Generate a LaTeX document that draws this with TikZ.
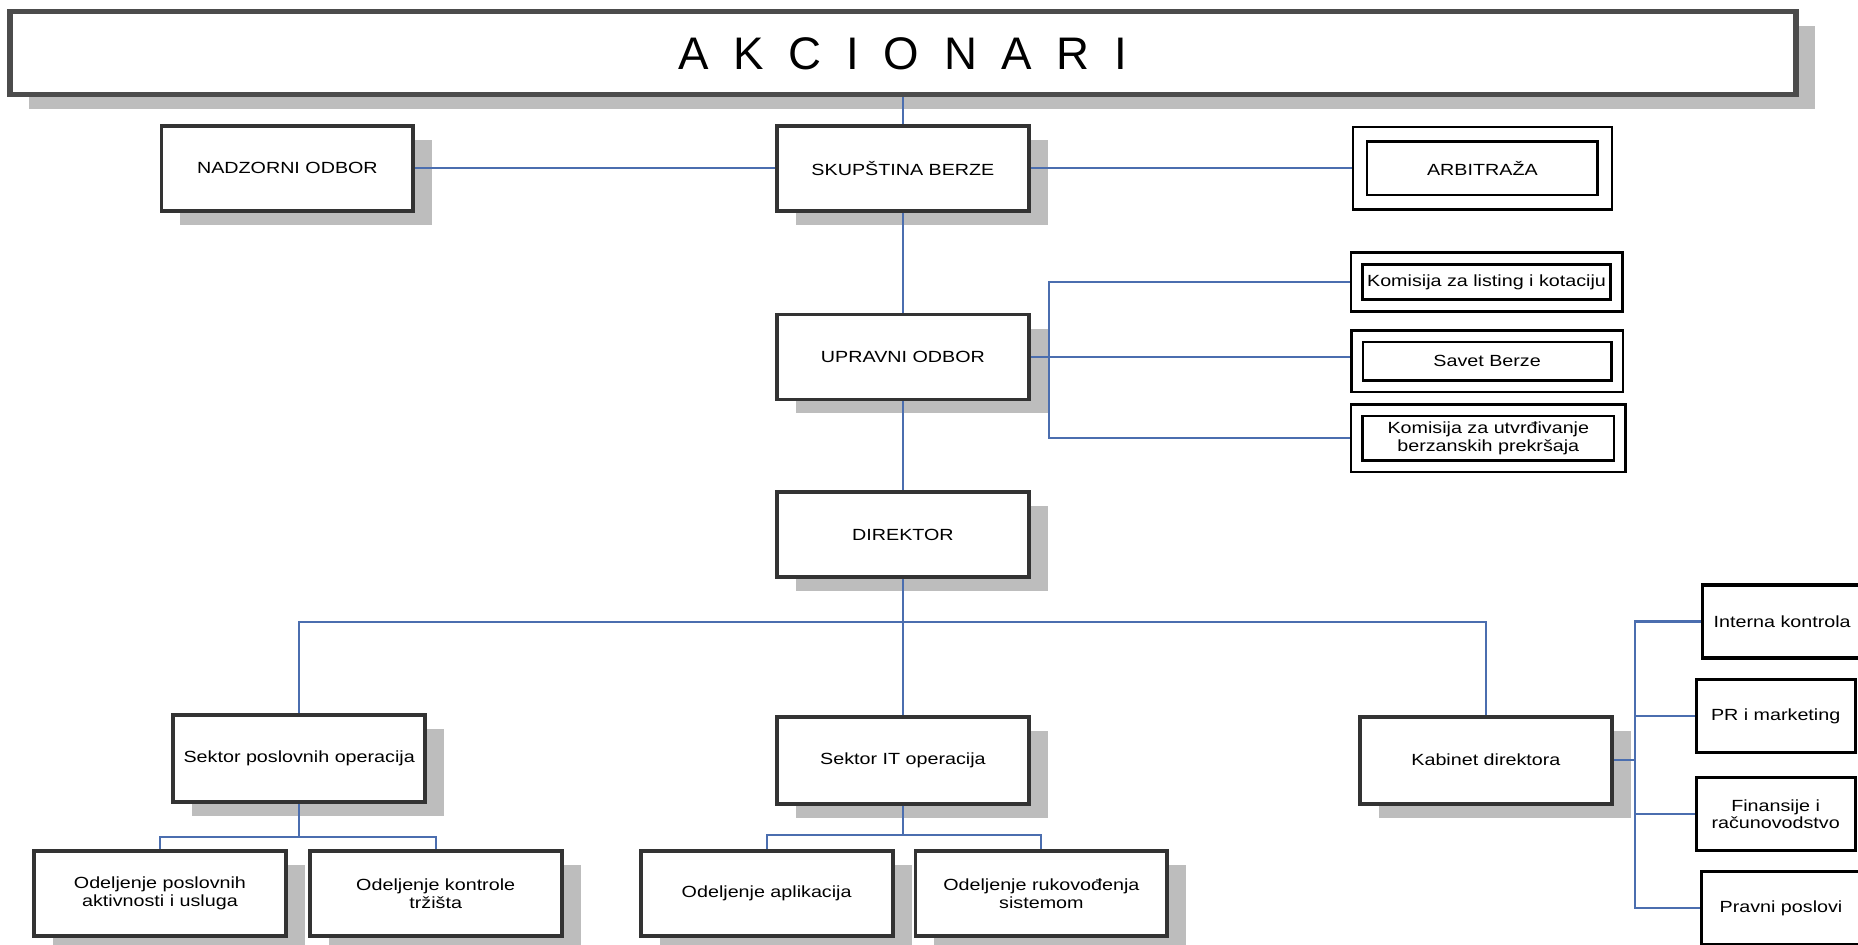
\documentclass[tikz,border=0pt]{standalone}
\usepackage{fontspec}
\setmainfont[FakeStretch=1.22]{Liberation Sans}
\newfontfamily\widefont[LetterSpace=54]{Liberation Sans}
\usetikzlibrary{positioning, shadows}
\definecolor{linkblue}{HTML}{4B6EAF}
\definecolor{framegray}{HTML}{333333}
\definecolor{shadowgray}{HTML}{BDBDBD}

\begin{document}
\begin{tikzpicture}[
    x=0.01185cm, y=-0.01185cm,
    every node/.style={font=\fontsize{4.6}{5}\selectfont, align=center, inner sep=1pt},
    unit/.style={draw=framegray, line width=1.1pt, fill=white, minimum width=2.52cm, minimum height=0.85cm, drop shadow={shadow xshift=0.19cm, shadow yshift=-0.14cm, fill=shadowgray, opacity=1}},
    board/.style={draw=black, line width=0.7pt, double=white, double distance=2.6pt, outer sep=2pt, minimum height=0.5cm},
    staff/.style={draw=black, line width=0.9pt, fill=white, minimum width=1.59cm, minimum height=0.73cm},
    link/.style={draw=linkblue, line width=0.6pt}
]
    \useasboundingbox (0,0) rectangle (1568,797);
    \clip (0,0) rectangle (1568,797);

    % Top
    \node[unit, draw=black!70, line width=1.5pt, minimum width=17.87cm, minimum height=0.83cm, font=\widefont\fontsize{13}{15}\selectfont] (akc) at (762,45) {AKCIONARI};

    % Assembly level
    \node[unit] (skup) at (762,142) {SKUPŠTINA BERZE};
    \node[unit, left=3.6cm of skup] (nad) {NADZORNI ODBOR};
    \node[board, double distance=3.4pt, outer sep=2.4pt, minimum width=2.45cm, minimum height=0.68cm] (arb) at (1251,142) {ARBITRAŽA};

    % Board level
    \node[unit, below=1.0cm of skup] (upr) {UPRAVNI ODBOR};
    \node[board, minimum width=2.6cm, minimum height=0.47cm] (klist) at (1254.5,238) {Komisija za listing i kotaciju};
    \node[board, minimum width=2.6cm] (savet) at (1255,305) {Savet Berze};
    \node[board, minimum width=2.63cm, minimum height=0.56cm] (kutv) at (1256,370) {Komisija za utvrđivanje\\berzanskih prekršaja};

    \node[unit, below=0.89cm of upr] (dir) {DIREKTOR};

    % Sectors
    \node[unit, minimum height=0.87cm] (spo) at (252.5,640) {Sektor poslovnih operacija};
    \node[unit, minimum height=0.87cm] (sit) at (762,641.5) {Sektor IT operacija};
    \node[unit, minimum height=0.87cm] (kab) at (1254,641.5) {Kabinet direktora};

    % Departments
    \node[unit] (opa) at (135,754) {Odeljenje poslovnih\\aktivnosti i usluga};
    \node[unit, right=0.2cm of opa] (okt) {Odeljenje kontrole\\tržišta};
    \node[unit] (oap) at (647,754) {Odeljenje aplikacija};
    \node[unit, right=0.19cm of oap] (ors) {Odeljenje rukovođenja\\sistemom};

    % Cabinet staff
    \node[staff] (ik) at (1504,524.5) {Interna kontrola};
    \node[staff] (pr) at (1498.5,604.5) {PR i marketing};
    \node[staff] (fr) at (1498.5,687) {Finansije i\\računovodstvo};
    \node[staff] (pp) at (1503,766.5) {Pravni poslovi};

    % Bus points
    \coordinate (ub) at (885,299);
    \coordinate (dj) at (762,525);
    \coordinate (bp) at (252.5,706);
    \coordinate (bi) at (762,705);
    \coordinate (kb) at (1380,641.5);

    % Connectors
    \draw[link] (akc) -- (skup);
    \draw[link] (nad) -- (skup);
    \draw[link] (skup) -- (arb);
    \draw[link] (skup) -- (upr);
    \draw[link] (upr) -- (dir);
    \draw[link] (upr) -- (upr -| savet.west);
    \draw[link] (klist) -| (ub) |- (kutv);
    \draw[link] (dir) -- (sit);
    \draw[link] (spo) |- (dj) -| (kab);
    \draw[link] (spo) -- (bp);
    \draw[link] (opa) |- (bp) -| (okt);
    \draw[link] (sit) -- (bi);
    \draw[link] (oap) |- (bi) -| (ors);
    \draw[link] (kab) -- (kb);
    \draw[link] (ik) -| (kb) |- (pp);
    \draw[link] (pr.west) -- (pr.west -| kb);
    \draw[link] (fr.west) -- (fr.west -| kb);
\end{tikzpicture}
\end{document}
